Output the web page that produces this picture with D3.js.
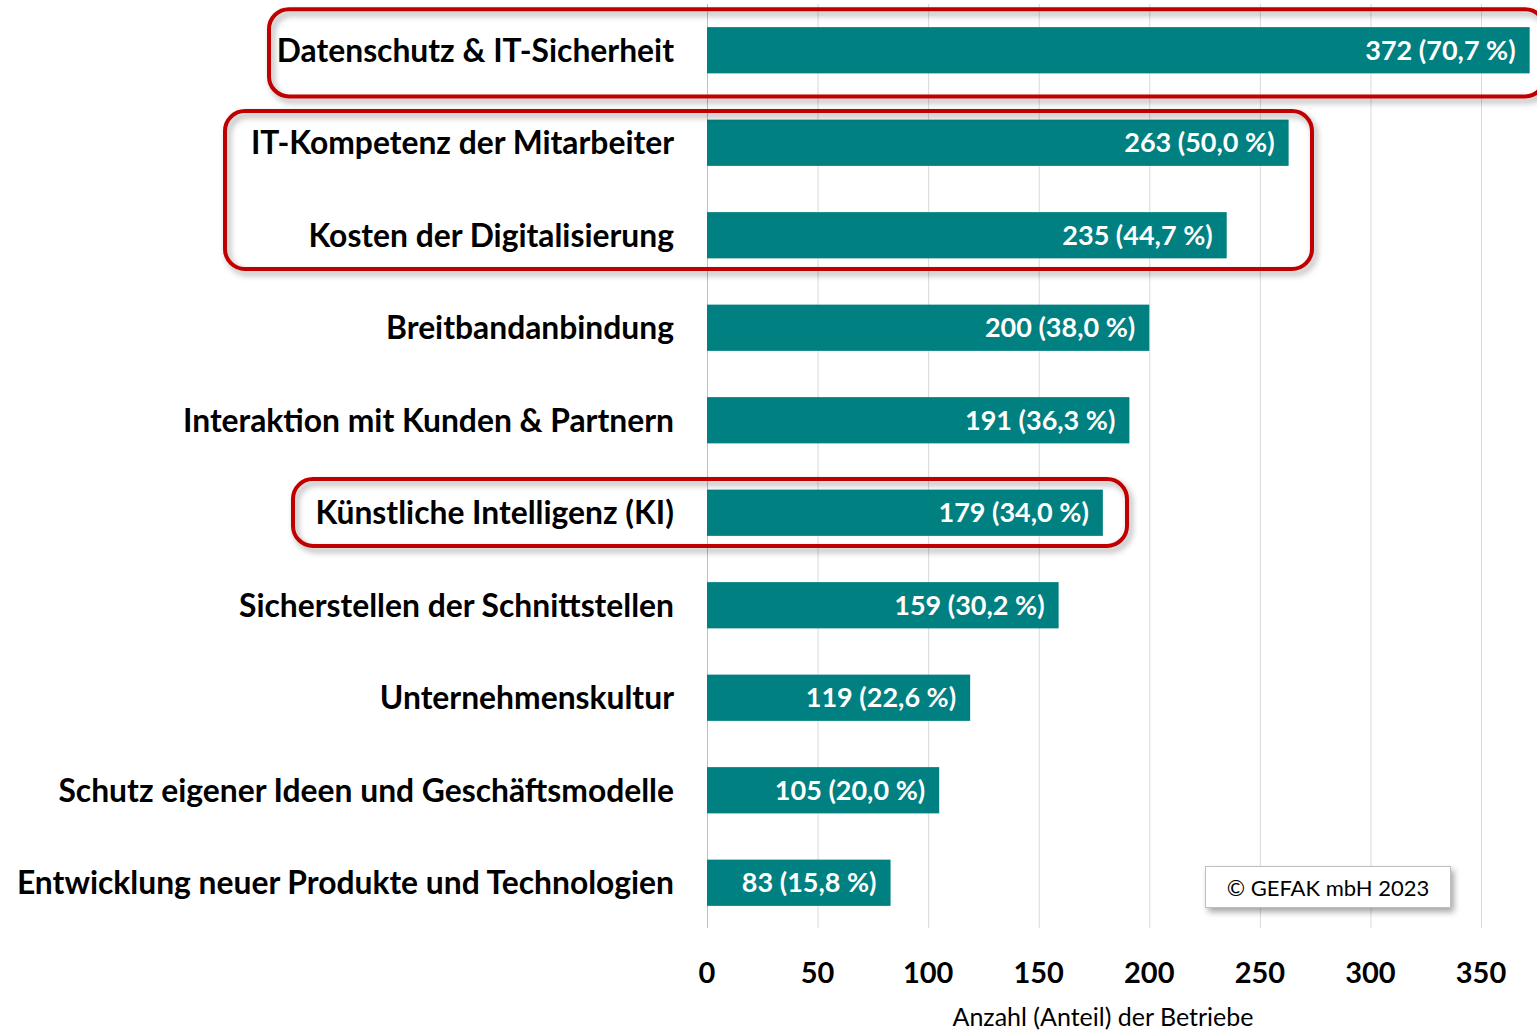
<!DOCTYPE html>
<html><head><meta charset="utf-8">
<script src="https://cdn.jsdelivr.net/npm/d3@7"></script>
<style>body{margin:0;background:#fff;}svg{display:block;font-family:Lato,"Open Sans",sans-serif;}</style>
</head><body>
<script>
const categories = ["Datenschutz & IT-Sicherheit","IT-Kompetenz der Mitarbeiter","Kosten der Digitalisierung","Breitbandanbindung","Interaktion mit Kunden & Partnern","Künstliche Intelligenz (KI)","Sicherstellen der Schnittstellen","Unternehmenskultur","Schutz eigener Ideen und Geschäftsmodelle","Entwicklung neuer Produkte und Technologien"];
const counts = [372,263,235,200,191,179,159,119,105,83];
const shares = ["70,7","50,0","44,7","38,0","36,3","34,0","30,2","22,6","20,0","15,8"];
const ticks = [0,50,100,150,200,250,300,350];
const highlightGroups = [[0,0],[1,2],[5,5]];

const W=1537,H=1034;
const svg=d3.select("body").append("svg").attr("width",W).attr("height",H);
const x=d3.scaleLinear().domain([0,375]).range([707,1536.3]);
const y=d3.scaleBand().domain(categories).range([4,929]).paddingInner(0.5).paddingOuter(0.25);

const defs=svg.append("defs");
const f=defs.append("filter").attr("id","sh").attr("x","-10%").attr("y","-30%").attr("width","120%").attr("height","160%");
f.append("feDropShadow").attr("dx",3).attr("dy",4).attr("stdDeviation",3).attr("flood-color","#000").attr("flood-opacity",0.35);

// gridlines
svg.append("g").selectAll("line").data(ticks).join("line")
 .attr("x1",d=>x(d)+0.5).attr("x2",d=>x(d)+0.5).attr("y1",4).attr("y2",928)
 .attr("stroke",d=>d===0?"#bfbfbf":"#d9d9d9").attr("stroke-width",1);

// bars
svg.append("g").selectAll("rect").data(categories).join("rect")
 .attr("x",x(0)).attr("y",d=>y(d)).attr("width",(d,i)=>x(counts[i])-x(0)).attr("height",y.bandwidth())
 .attr("fill","#008080");

// value labels
svg.append("g").selectAll("text").data(categories).join("text")
 .attr("x",(d,i)=>x(counts[i])-14).attr("y",d=>y(d)+y.bandwidth()/2).attr("dy","0.36em")
 .attr("text-anchor","end").attr("fill","#fff").attr("font-weight","bold").attr("font-size",27)
 .text((d,i)=>`${counts[i]} (${shares[i]} %)`);

// category labels
svg.append("g").selectAll("text").data(categories).join("text")
 .attr("x",674).attr("y",d=>y(d)+y.bandwidth()/2).attr("dy","0.36em")
 .attr("text-anchor","end").attr("fill","#000").attr("font-weight","bold").attr("font-size",31.8)
 .text(d=>d);

// tick labels
svg.append("g").selectAll("text").data(ticks).join("text")
 .attr("x",d=>x(d)).attr("y",973).attr("dy","0.36em").attr("text-anchor","middle")
 .attr("font-weight","bold").attr("font-size",29).attr("fill","#000").text(d=>d);

svg.append("text").attr("x",1103).attr("y",1026).attr("text-anchor","middle")
 .attr("font-size",25).attr("fill","#000").text("Anzahl (Anteil) der Betriebe");

// highlight boxes (padding around the grouped bars is layout only)
const boxes=[{x0:269,x1:1545,g:highlightGroups[0],pt:18,pb:23},{x0:225,x1:1312,g:highlightGroups[1],pt:8.6,pb:10.6},{x0:293,x1:1127,g:highlightGroups[2],pt:10.6,pb:10}];
svg.append("g").selectAll("rect").data(boxes).join("rect")
 .attr("x",d=>d.x0).attr("width",d=>d.x1-d.x0)
 .attr("y",d=>y(categories[d.g[0]])-d.pt)
 .attr("height",d=>y(categories[d.g[1]])+y.bandwidth()+d.pb-(y(categories[d.g[0]])-d.pt))
 .attr("rx",20).attr("fill","none").attr("stroke","#c00000").attr("stroke-width",4).attr("filter","url(#sh)");

// copyright
const cg=svg.append("g");
cg.append("rect").attr("x",1205.5).attr("y",866.5).attr("width",245).attr("height",41)
 .attr("fill","#fff").attr("stroke","#bfbfbf").attr("stroke-width",1).attr("filter","url(#sh)");
cg.append("text").attr("x",1328).attr("y",888).attr("dy","0.36em").attr("text-anchor","middle")
 .attr("font-size",22).attr("fill","#000").text("© GEFAK mbH 2023");
</script>
</body></html>
